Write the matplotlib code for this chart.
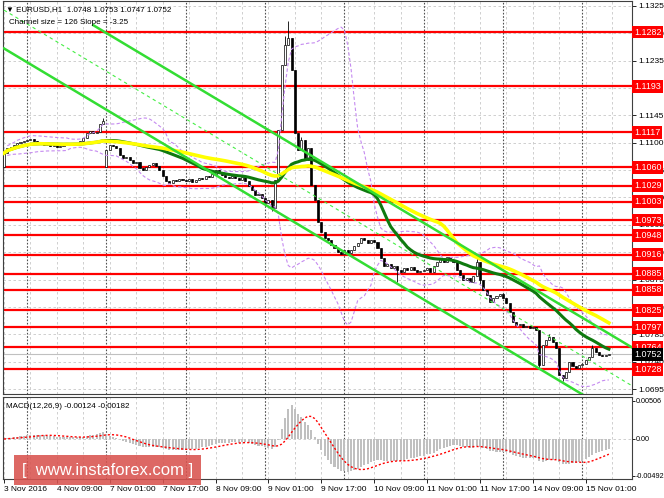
import numpy as np
import pandas as pd
import matplotlib
matplotlib.use('Agg')
from matplotlib import pyplot as plt
from matplotlib.transforms import blended_transform_factory

# EURUSD H1 closes, 3 Nov 2016 17:00 .. 15 Nov 2016 08:00 (one per bar)
closes = [
    1.1083, 1.1091, 1.1093, 1.1096, 1.1100, 1.1101, 1.1103, 1.1104,
    1.1106, 1.1103, 1.1101, 1.1100, 1.1096, 1.1098, 1.1095, 1.1096,
    1.1093, 1.1095, 1.1098, 1.1100, 1.1096, 1.1100, 1.1098, 1.1103,
    1.1108, 1.1116, 1.1119, 1.1116, 1.1118, 1.1131, 1.1136, 1.1088,
    1.1096, 1.1095, 1.1091, 1.1080, 1.1075, 1.1077, 1.1072, 1.1067,
    1.1068, 1.1058, 1.1055, 1.1060, 1.1063, 1.1067, 1.1062, 1.1055,
    1.1045, 1.1037, 1.1034, 1.1039, 1.1037, 1.1040, 1.1039, 1.1037,
    1.1040, 1.1035, 1.1039, 1.1042, 1.1040, 1.1045, 1.1044, 1.1049,
    1.1055, 1.1052, 1.1047, 1.1044, 1.1042, 1.1045, 1.1042, 1.1039,
    1.1044, 1.1037, 1.1029, 1.1022, 1.1014, 1.1016, 1.1009, 1.1001,
    1.1006, 1.0993, 1.1039, 1.1121, 1.1228, 1.1261, 1.1272, 1.1220,
    1.1116, 1.1088, 1.1104, 1.1072, 1.1091, 1.1031, 1.1006, 1.0970,
    1.0953, 1.0943, 1.0940, 1.0932, 1.0927, 1.0920, 1.0917, 1.0924,
    1.0919, 1.0924, 1.0930, 1.0935, 1.0943, 1.0940, 1.0935, 1.0940,
    1.0937, 1.0927, 1.0910, 1.0897, 1.0901, 1.0894, 1.0897, 1.0891,
    1.0887, 1.0894, 1.0891, 1.0896, 1.0891, 1.0887, 1.0889, 1.0891,
    1.0894, 1.0887, 1.0897, 1.0904, 1.0910, 1.0904, 1.0912, 1.0907,
    1.0904, 1.0891, 1.0883, 1.0874, 1.0878, 1.0871, 1.0881, 1.0904,
    1.0874, 1.0858, 1.0850, 1.0838, 1.0845, 1.0848, 1.0851, 1.0845,
    1.0837, 1.0822, 1.0805, 1.0800, 1.0802, 1.0797, 1.0799, 1.0795,
    1.0797, 1.0792, 1.0735, 1.0767, 1.0776, 1.0781, 1.0772, 1.0763,
    1.0718, 1.0713, 1.0723, 1.0739, 1.0733, 1.0730, 1.0735, 1.0736,
    1.0743, 1.0748, 1.0763, 1.0756, 1.0751, 1.0749, 1.0751, 1.0752,
]
first_open = 1.1060
gap_opens = {31: 1.1060}          # monday open after the weekend gap
wick_highs = {30: 1.1140, 85: 1.1275, 86: 1.1300, 90: 1.1110, 143: 1.0912,
              165: 1.0786, 178: 1.0767}
wick_lows = {81: 1.0988, 119: 1.0871, 144: 1.0868, 162: 1.0728, 169: 1.0709}

# horizontal support / resistance levels
levels = [1.1282, 1.1193, 1.1117, 1.1060, 1.1029, 1.1003, 1.0973, 1.0948,
          1.0916, 1.0885, 1.0858, 1.0825, 1.0797, 1.0764, 1.0728]
price_ticks = [1.1325, 1.1280, 1.1235, 1.1190, 1.1145, 1.1100, 1.1055, 1.1010,
               1.0965, 1.0920, 1.0875, 1.0830, 1.0785, 1.0740, 1.0695]
last_price = 1.0752

# equidistant channel: middle at bar 0, slope per bar, half width
chan_mid0 = 1.1318
chan_slope = -0.000325
chan_half = 0.0063
chan_upper_start = 27

xlabel_bars = [0, 16, 32, 48, 64, 80, 96, 112, 128, 144, 160, 176]
xlabels = ['3 Nov 2016', '4 Nov 09:00', '7 Nov 01:00', '7 Nov 17:00', '8 Nov 09:00',
           '9 Nov 01:00', '9 Nov 17:00', '10 Nov 09:00', '11 Nov 01:00', '11 Nov 17:00',
           '14 Nov 09:00', '15 Nov 01:00']
day_starts = [7, 31, 55, 79, 103, 127, 151, 175]

macd_ticks = [0.00506, 0.0, -0.00492]
macd_ticklabels = ['0.00506', '0.00', '-0.00492']

# ---------------------------------------------------------------
n = len(closes)
x = np.arange(n)
c = np.array(closes)
o = np.concatenate([[first_open], c[:-1]])
for b, v in gap_opens.items():
    o[b] = v
hi = np.maximum(o, c)
lo = np.minimum(o, c)
for b, v in wick_highs.items():
    hi[b] = v
for b, v in wick_lows.items():
    lo[b] = v

s = pd.Series(c)
ma_fast = s.rolling(30, min_periods=1).mean()
ma_slow = s.rolling(50, min_periods=1).mean()
bb_mid = s.rolling(20, min_periods=1).mean()
bb_sd = s.rolling(20, min_periods=2).std(ddof=0)
macd = s.ewm(span=12, adjust=False).mean() - s.ewm(span=26, adjust=False).mean()
signal = macd.rolling(9, min_periods=1).mean()

plt.rcParams['font.family'] = ['Liberation Sans', 'DejaVu Sans']
fs = 6.0
fig = plt.figure(figsize=(6.64, 4.98), dpi=100)
ax = fig.add_axes([3/664, 1 - 394/498, 629/664, 393/498])
ax2 = fig.add_axes([3/664, 1 - 479/498, 629/664, 82/498])

xmin, xmax = -0.3, 190
grid_kw = dict(color='#c8c8c8', lw=0.6, ls=(0, (3, 3)))
sep_kw = dict(color='#505050', lw=0.8, ls=(0, (1.5, 1.5)), zorder=1)

for a in (ax, ax2):
    a.set_xlim(xmin, xmax)
    for b in range(0, 190, 8):
        a.axvline(b, zorder=0, **grid_kw)
    for b in day_starts:
        a.axvline(b, **sep_kw)
    for sp in a.spines.values():
        sp.set_color('#404040')
        sp.set_linewidth(0.8)
    a.yaxis.tick_right()
    a.tick_params(axis='y', length=3, width=0.6, pad=1.5, labelsize=fs)

# price panel
ax.set_ylim(1.0687, 1.1333)
for t in price_ticks:
    ax.axhline(t, zorder=0, **grid_kw)
ax.set_yticks(price_ticks)
ax.set_yticklabels([f'{t:.4f}' for t in price_ticks])
ax.set_xticks([])

for lv in levels:
    ax.axhline(lv, color='#ff0000', lw=1.6, zorder=2)
ax.axhline(last_price, color='#c0c0c0', lw=0.8, zorder=2)

up = c >= o
ax.vlines(x, lo, hi, color='black', lw=0.6, zorder=3)
ax.bar(x, c - o, bottom=o, width=0.62, color=np.where(up, 'white', 'black'),
       edgecolor='black', linewidth=0.5, zorder=4)

ax.plot(x, bb_mid + 2 * bb_sd, color='#c58af0', lw=0.8, ls=(0, (3, 2)), zorder=5)
ax.plot(x, bb_mid - 2 * bb_sd, color='#c58af0', lw=0.8, ls=(0, (3, 2)), zorder=5)
ax.plot(x, ma_fast, color='#0f7a0f', lw=2.2, zorder=6)
ax.plot(x, ma_slow, color='#ffff00', lw=2.6, zorder=6)

cx = np.array([0, xmax])
mid = chan_mid0 + chan_slope * cx
ax.plot(cx, mid, color='#44ee44', lw=0.8, ls=(0, (3, 3)), zorder=7)
ax.plot(cx, mid - chan_half, color='#33dd33', lw=1.8, zorder=7)
ux = np.array([chan_upper_start, xmax])
ax.plot(ux, chan_mid0 + chan_slope * ux + chan_half, color='#33dd33', lw=1.8, zorder=7)

tr = blended_transform_factory(ax.transAxes, ax.transData)
for lv in levels:
    ax.text(1.003, lv, f'{lv:.4f}', transform=tr, color='white', fontsize=6.4,
            va='center', ha='left', zorder=10, clip_on=False,
            bbox=dict(boxstyle='square,pad=0.22', fc='#ff0000', ec='none'))
ax.text(1.003, last_price, f'{last_price:.4f}', transform=tr, color='white', fontsize=6.4,
        va='center', ha='left', zorder=11, clip_on=False,
        bbox=dict(boxstyle='square,pad=0.22', fc='black', ec='none'))

ax.text(0.005, 0.988, '\u25bc EURUSD,H1  1.0748 1.0753 1.0747 1.0752', transform=ax.transAxes,
        fontsize=5.8, va='top', ha='left', zorder=12)
ax.text(0.01, 0.955, 'Channel size = 126 Slope = -3.25', transform=ax.transAxes,
        fontsize=5.8, va='top', ha='left', zorder=12)

# MACD panel
ax2.set_ylim(-0.00533, 0.00559)
ax2.axhline(0, zorder=0, **grid_kw)
ax2.bar(x, macd, width=0.62, color='#c0c0c0', zorder=2)
ax2.plot(x, signal, color='#ff0000', lw=1.0, ls=(0, (1.5, 1.5)), zorder=3)
ax2.set_yticks(macd_ticks)
ax2.set_yticklabels(macd_ticklabels)
ax2.tick_params(axis='y', labelsize=5.2, length=2, pad=0.5)
ax2.set_xticks(xlabel_bars)
ax2.set_xticklabels(xlabels, fontsize=fs, ha='left')
ax2.tick_params(axis='x', length=3, width=0.6, pad=2)
ax2.text(0.004, 0.93, 'MACD(12,26,9) -0.00124 -0.00182', transform=ax2.transAxes,
         fontsize=5.8, va='top', ha='left', zorder=12)

# watermark
fig.patches.append(plt.Rectangle((14/664, 1 - 485/498), 187/664, 30/498,
                                 transform=fig.transFigure, fc='#d9534f', alpha=0.88,
                                 ec='none', zorder=20))
fig.text(108/664, 1 - 470/498, '[  www.instaforex.com ]', color='white', fontsize=12,
         ha='center', va='center', zorder=21)

fig.savefig('out.png', dpi=100, facecolor='white')
